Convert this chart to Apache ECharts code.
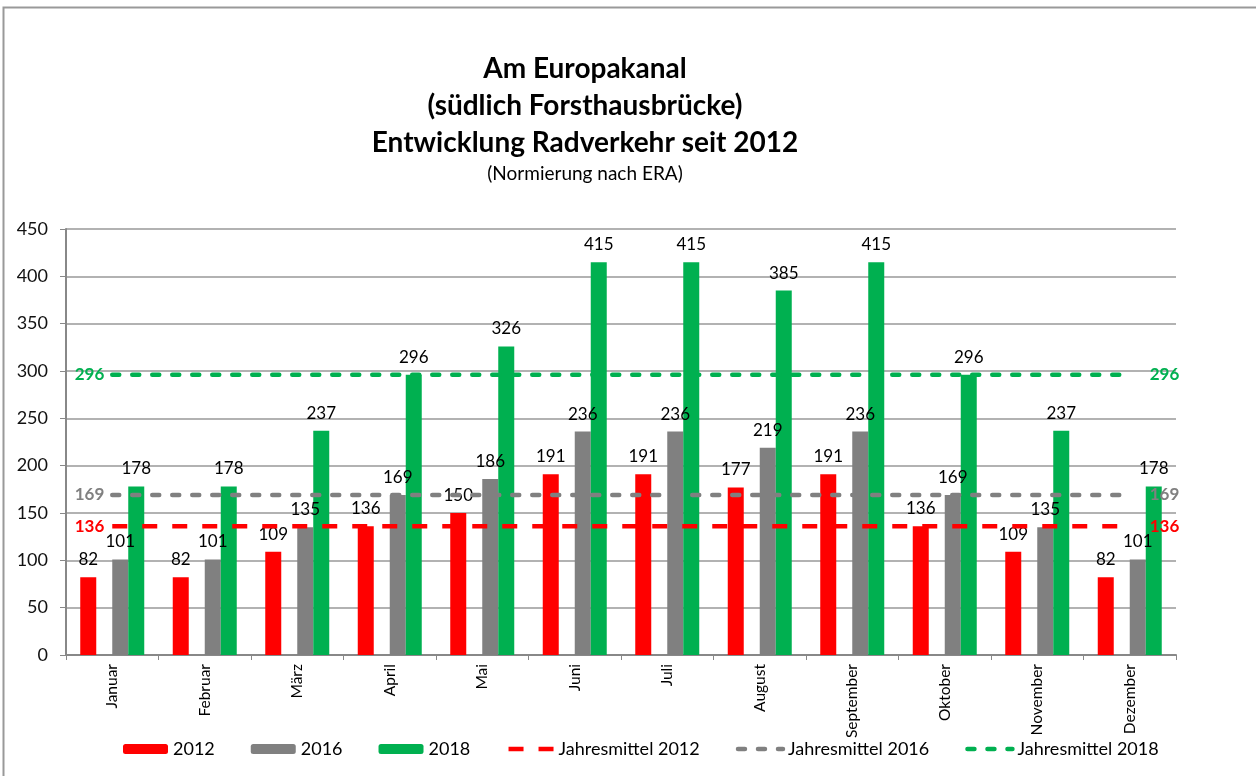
<!DOCTYPE html>
<html>
<head>
<meta charset="utf-8">
<script src="https://cdn.jsdelivr.net/npm/echarts@6/dist/echarts.min.js"></script>
<style>
  html, body { margin: 0; padding: 0; background: #fff; }
  #chart { width: 1256px; height: 776px; }
</style>
</head>
<body>
<div id="chart"></div>
<script>
const months = ['Januar', 'Februar', 'März', 'April', 'Mai', 'Juni', 'Juli', 'August', 'September', 'Oktober', 'November', 'Dezember']
const yTicks = [0, 50, 100, 150, 200, 250, 300, 350, 400, 450]
const v2012 = [82, 82, 109, 136, 150, 191, 191, 177, 191, 136, 109, 82]
const v2016 = [101, 101, 135, 169, 186, 236, 236, 219, 236, 169, 135, 101]
const v2018 = [178, 178, 237, 296, 326, 415, 415, 385, 415, 296, 237, 178]
// Jahresmittel, je Monat gleich
const avg2012 = [136, 136, 136, 136, 136, 136, 136, 136, 136, 136, 136, 136]
const avg2016 = [169, 169, 169, 169, 169, 169, 169, 169, 169, 169, 169, 169]
const avg2018 = [296, 296, 296, 296, 296, 296, 296, 296, 296, 296, 296, 296]

const RED = '#ff0000'
const GRAY = '#808080'
const GREEN = '#00b050'
const FONT = 'Lato'

const chart = echarts.init(document.getElementById('chart'))

function barSeries(name, data, color) {
  return {
    name: name,
    type: 'bar',
    data: data,
    barWidth: 16,
    barGap: 0,
    itemStyle: { color: color },
    label: {
      show: true,
      position: 'top',
      distance: 9,
      color: '#000',
      fontSize: 17,
      fontFamily: FONT
    },
    z: 2
  }
}

function avgSeries(name, data, color, dash, cap) {
  const last = data.length - 1
  return {
    name: name,
    type: 'line',
    symbol: 'circle',
    symbolSize: 0.01,
    showSymbol: true,
    silent: true,
    lineStyle: { color: color, width: 4.5, type: dash, cap: cap },
    itemStyle: { color: color },
    label: { show: false, color: color, fontSize: 17, fontWeight: 'bold', fontFamily: FONT },
    data: data.map(function (v, i) {
      if (i === 0) return { value: v, label: { show: true, position: 'left', distance: 8 } }
      if (i === last) return { value: v, label: { show: true, position: 'right', distance: 20 } }
      return v
    }),
    z: 5
  }
}

function lineLegend(name) {
  return { name: name, itemStyle: { opacity: 0 }, lineStyle: { width: 4.5 } }
}

const option = {
  animation: false,
  textStyle: { fontFamily: FONT },
  title: {
    text: 'Am Europakanal\n(südlich Forsthausbrücke)\nEntwicklung Radverkehr seit 2012',
    subtext: '(Normierung nach ERA)',
    left: 580,
    textAlign: 'center',
    top: 45,
    itemGap: 3,
    textStyle: { fontSize: 28, fontWeight: 'bold', color: '#000', lineHeight: 37, fontFamily: FONT },
    subtextStyle: { fontSize: 19, color: '#000', fontFamily: FONT }
  },
  grid: { left: 66, right: 80, top: 229, bottom: 121 },
  legend: {
    bottom: 13,
    left: 118,
    itemWidth: 45,
    itemHeight: 10,
    itemGap: 36,
    data: ['2012', '2016', '2018', lineLegend('Jahresmittel 2012'), lineLegend('Jahresmittel 2016'), lineLegend('Jahresmittel 2018')],
    textStyle: { fontSize: 18, color: '#000', fontFamily: FONT }
  },
  xAxis: {
    type: 'category',
    data: months,
    axisLine: { lineStyle: { color: '#888', width: 2 } },
    axisTick: { show: true, length: 5, lineStyle: { color: '#888' } },
    axisLabel: { rotate: 90, fontSize: 15.5, color: '#000', margin: 9, fontFamily: FONT }
  },
  yAxis: {
    type: 'value',
    min: yTicks[0],
    max: yTicks[yTicks.length - 1],
    interval: yTicks[1] - yTicks[0],
    axisLine: { show: true, lineStyle: { color: '#888', width: 2 } },
    axisTick: { show: true, length: 6, lineStyle: { color: '#888' } },
    axisLabel: { fontSize: 18, color: '#111', margin: 18, fontFamily: FONT },
    splitLine: { lineStyle: { color: '#999', width: 1.5 } }
  },
  graphic: [
    {
      type: 'rect',
      shape: { x: 3.5, y: 7.5, width: 1400, height: 900 },
      style: { fill: 'none', stroke: '#999', lineWidth: 2 },
      silent: true
    }
  ],
  series: [
    barSeries('2012', v2012, RED),
    // leerer Platzhalter für die Lücke zwischen 2012 und 2016
    { name: 'gap', type: 'bar', data: [], barWidth: 16, barGap: 0 },
    barSeries('2016', v2016, GRAY),
    barSeries('2018', v2018, GREEN),
    avgSeries('Jahresmittel 2012', avg2012, RED, [15, 15], 'butt'),
    avgSeries('Jahresmittel 2016', avg2016, GRAY, [7, 13], 'round'),
    avgSeries('Jahresmittel 2018', avg2018, GREEN, [7, 13], 'round')
  ]
}

chart.setOption(option)
</script>
</body>
</html>
